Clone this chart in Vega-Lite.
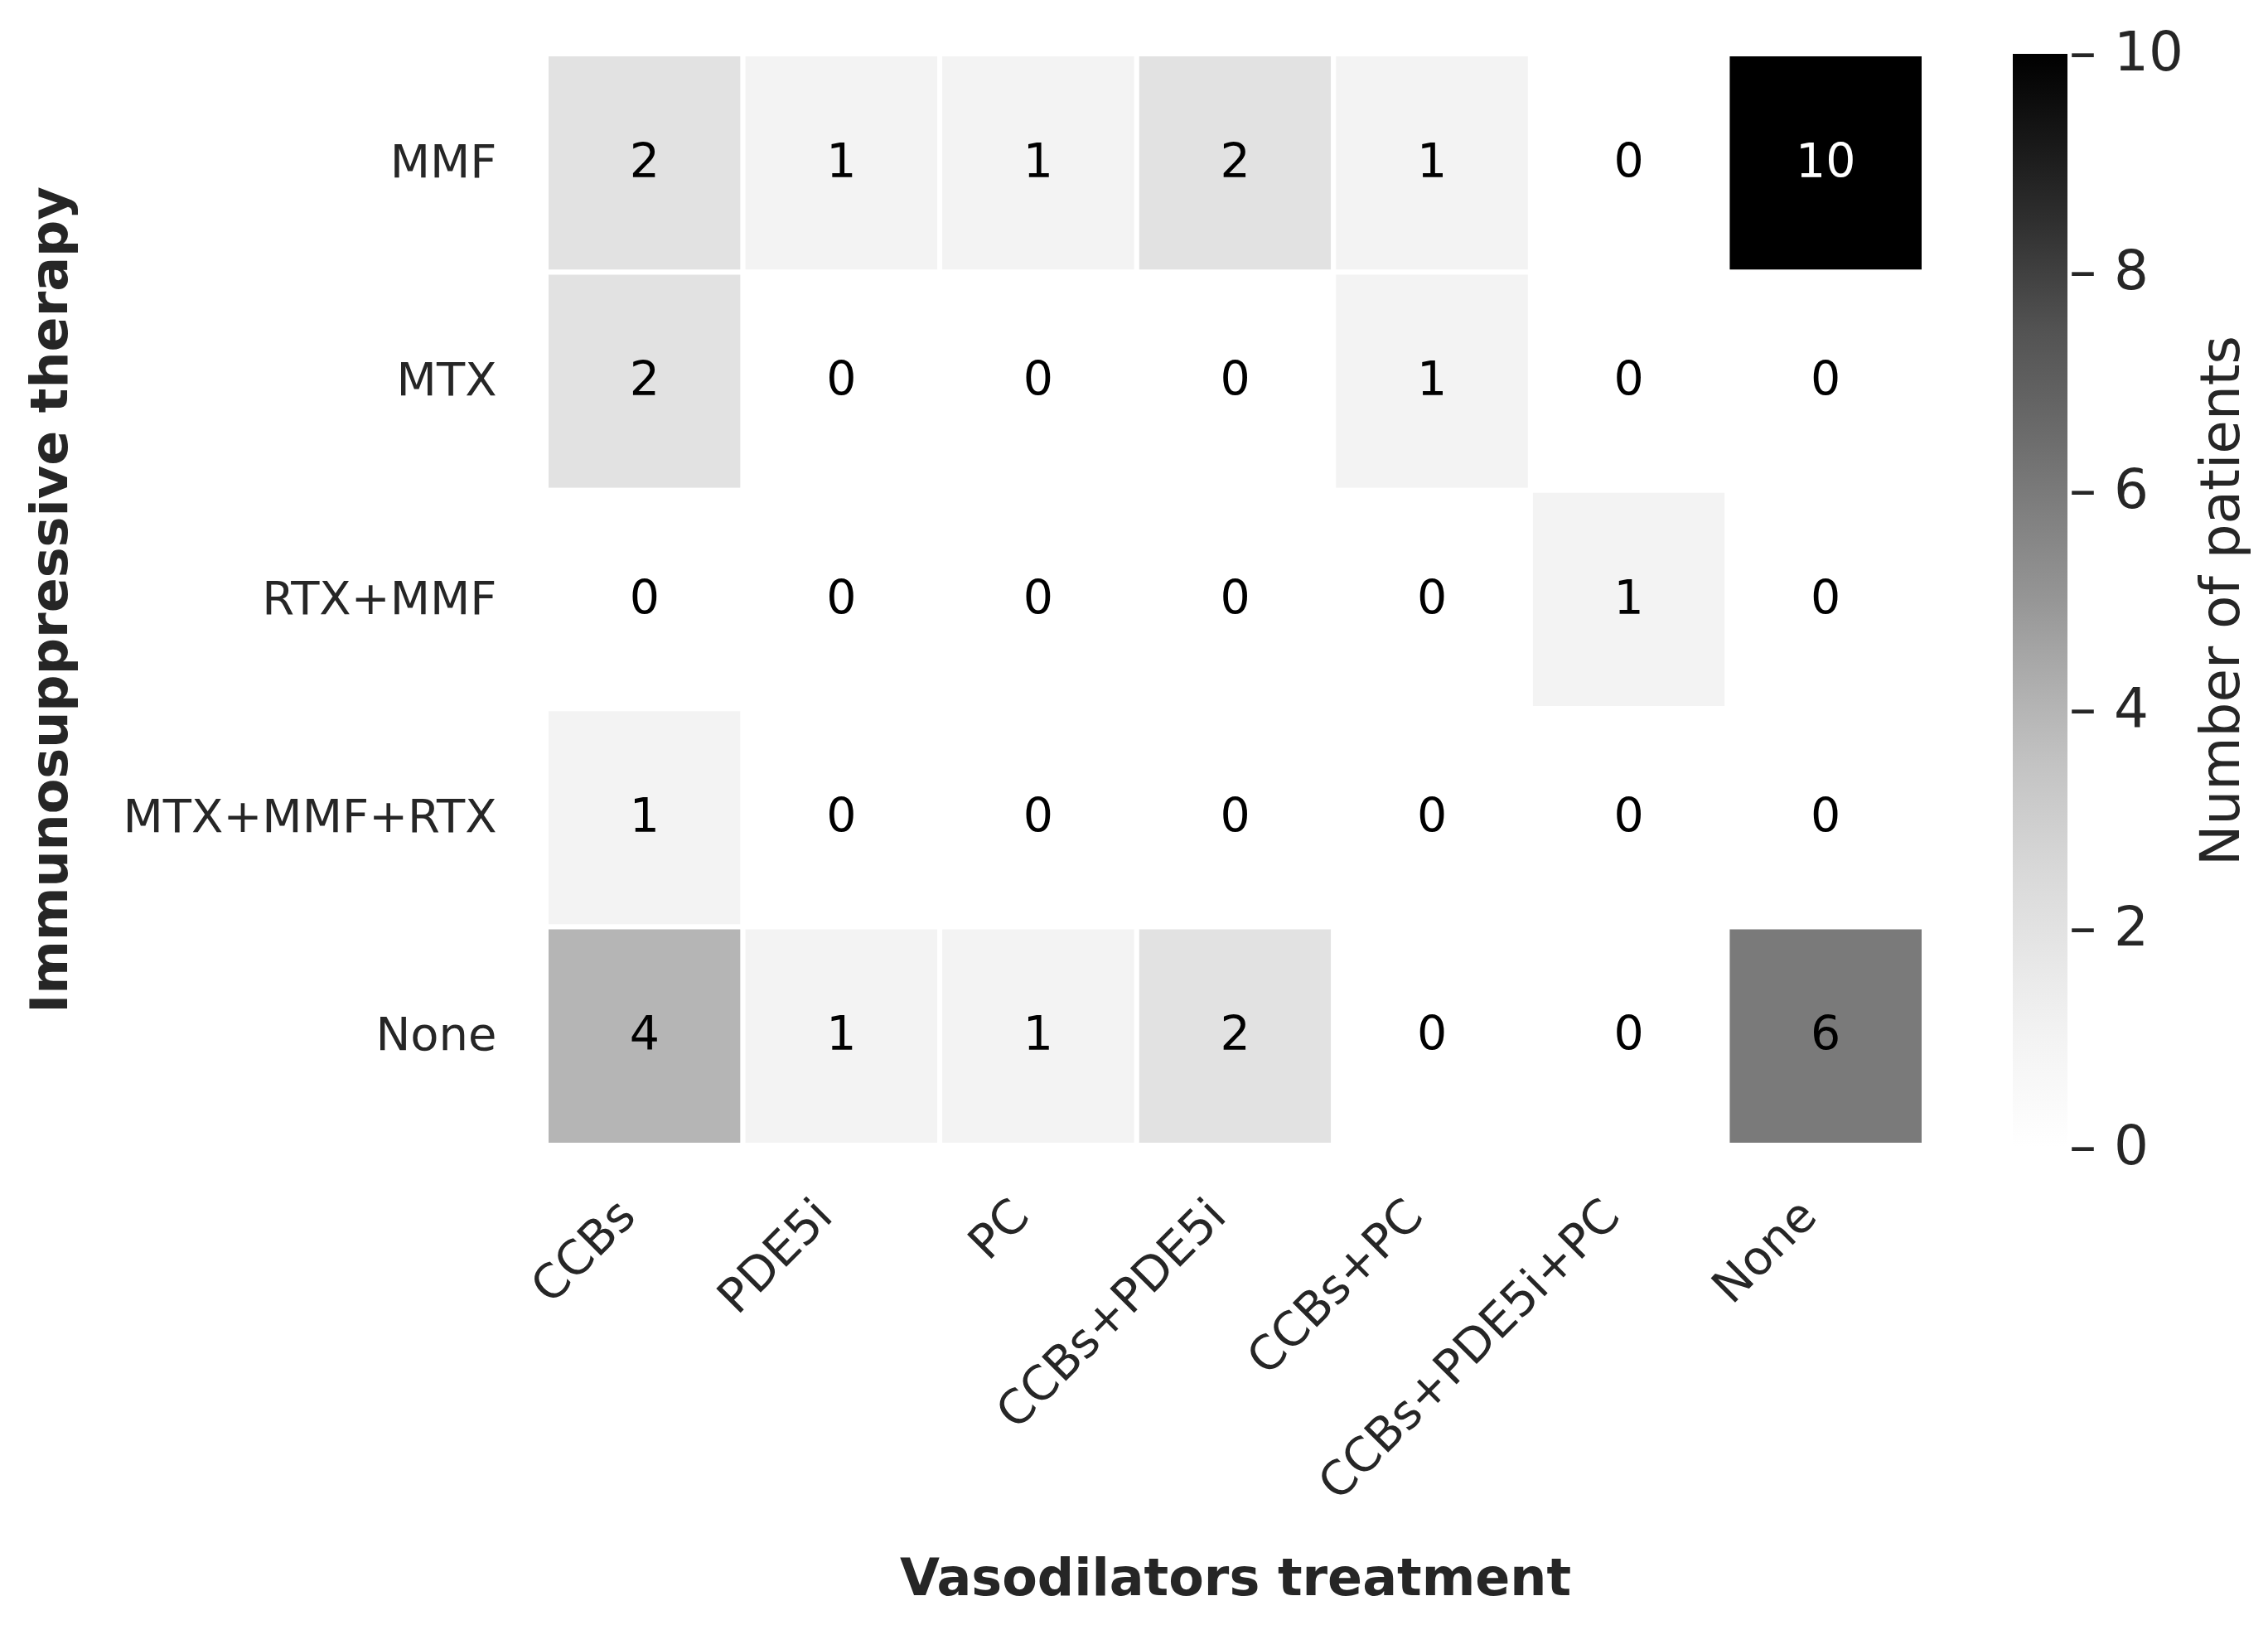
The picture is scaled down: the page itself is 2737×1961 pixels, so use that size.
{
  "$schema": "https://vega.github.io/schema/vega-lite/v6.json",
  "width": 1663,
  "height": 1317,
  "autosize": {"type": "none"},
  "padding": {"left": 659, "top": 65, "right": 415, "bottom": 579},
  "background": "white",
  "config": {"view": {"stroke": null}, "font": "DejaVu Sans"},
  "data": {
    "values": [
      {"immuno": "MMF", "vaso": "CCBs", "count": 2},
      {"immuno": "MMF", "vaso": "PDE5i", "count": 1},
      {"immuno": "MMF", "vaso": "PC", "count": 1},
      {"immuno": "MMF", "vaso": "CCBs+PDE5i", "count": 2},
      {"immuno": "MMF", "vaso": "CCBs+PC", "count": 1},
      {"immuno": "MMF", "vaso": "CCBs+PDE5i+PC", "count": 0},
      {"immuno": "MMF", "vaso": "None", "count": 10},
      {"immuno": "MTX", "vaso": "CCBs", "count": 2},
      {"immuno": "MTX", "vaso": "PDE5i", "count": 0},
      {"immuno": "MTX", "vaso": "PC", "count": 0},
      {"immuno": "MTX", "vaso": "CCBs+PDE5i", "count": 0},
      {"immuno": "MTX", "vaso": "CCBs+PC", "count": 1},
      {"immuno": "MTX", "vaso": "CCBs+PDE5i+PC", "count": 0},
      {"immuno": "MTX", "vaso": "None", "count": 0},
      {"immuno": "RTX+MMF", "vaso": "CCBs", "count": 0},
      {"immuno": "RTX+MMF", "vaso": "PDE5i", "count": 0},
      {"immuno": "RTX+MMF", "vaso": "PC", "count": 0},
      {"immuno": "RTX+MMF", "vaso": "CCBs+PDE5i", "count": 0},
      {"immuno": "RTX+MMF", "vaso": "CCBs+PC", "count": 0},
      {"immuno": "RTX+MMF", "vaso": "CCBs+PDE5i+PC", "count": 1},
      {"immuno": "RTX+MMF", "vaso": "None", "count": 0},
      {"immuno": "MTX+MMF+RTX", "vaso": "CCBs", "count": 1},
      {"immuno": "MTX+MMF+RTX", "vaso": "PDE5i", "count": 0},
      {"immuno": "MTX+MMF+RTX", "vaso": "PC", "count": 0},
      {"immuno": "MTX+MMF+RTX", "vaso": "CCBs+PDE5i", "count": 0},
      {"immuno": "MTX+MMF+RTX", "vaso": "CCBs+PC", "count": 0},
      {"immuno": "MTX+MMF+RTX", "vaso": "CCBs+PDE5i+PC", "count": 0},
      {"immuno": "MTX+MMF+RTX", "vaso": "None", "count": 0},
      {"immuno": "None", "vaso": "CCBs", "count": 4},
      {"immuno": "None", "vaso": "PDE5i", "count": 1},
      {"immuno": "None", "vaso": "PC", "count": 1},
      {"immuno": "None", "vaso": "CCBs+PDE5i", "count": 2},
      {"immuno": "None", "vaso": "CCBs+PC", "count": 0},
      {"immuno": "None", "vaso": "CCBs+PDE5i+PC", "count": 0},
      {"immuno": "None", "vaso": "None", "count": 6}
    ]
  },
  "encoding": {
    "x": {
      "field": "vaso",
      "type": "nominal",
      "sort": ["CCBs", "PDE5i", "PC", "CCBs+PDE5i", "CCBs+PC", "CCBs+PDE5i+PC", "None"],
      "scale": {"paddingInner": 0, "paddingOuter": 0},
      "axis": {
        "title": "Vasodilators treatment",
        "titleFontSize": 62,
        "titleFontWeight": "bold",
        "titleColor": "#262626",
        "titleX": 831.5,
        "titleY": 542,
        "titleBaseline": "alphabetic",
        "titleAlign": "center",
        "labelAngle": -45,
        "labelAlign": "right",
        "labelBaseline": "middle",
        "labelPadding": 76,
        "labelOffset": -20,
        "labelFontSize": 57,
        "labelColor": "#262626",
        "labelLimit": 1000,
        "ticks": false,
        "domain": false,
        "grid": false
      }
    },
    "y": {
      "field": "immuno",
      "type": "nominal",
      "sort": ["MMF", "MTX", "RTX+MMF", "MTX+MMF+RTX", "None"],
      "scale": {"paddingInner": 0, "paddingOuter": 0},
      "axis": {
        "title": "Immunosuppressive therapy",
        "titleFontSize": 62,
        "titleFontWeight": "bold",
        "titleColor": "#262626",
        "titleAngle": 270,
        "titleX": -598,
        "titleY": 658.5,
        "titleBaseline": "middle",
        "titleAlign": "center",
        "labelPadding": 60,
        "labelFontSize": 56,
        "labelColor": "#262626",
        "labelLimit": 1000,
        "ticks": false,
        "domain": false,
        "grid": false
      }
    }
  },
  "layer": [
    {
      "mark": {"type": "rect", "stroke": "white", "strokeWidth": 6},
      "encoding": {
        "color": {
          "field": "count",
          "type": "quantitative",
          "scale": {
            "domain": [0, 1.25, 2.5, 3.75, 5, 6.25, 7.5, 8.75, 10],
            "range": ["#ffffff", "#f0f0f0", "#d9d9d9", "#bdbdbd", "#969696", "#737373", "#525252", "#252525", "#000000"],
            "interpolate": "rgb"
          },
          "legend": {
            "title": "Number of patients",
            "orient": "right",
            "offset": 107,
            "padding": 0,
            "gradientLength": 1320,
            "gradientThickness": 66,
            "gradientStrokeWidth": 0,
            "values": [0, 2, 4, 6, 8, 10],
            "labelExpr": "'– ' + datum.value",
            "labelFontSize": 66,
            "labelBaseline": "middle",
            "labelOffset": 2,
            "labelColor": "#262626",
            "labelOverlap": false,
            "titleOrient": "right",
            "titleFontSize": 66,
            "titleFontWeight": "normal",
            "titleColor": "#262626",
            "titleAnchor": "middle",
            "titleLimit": 3000,
            "titlePadding": 15,
            "encode": {
              "labels": {
                "update": {
                  "baseline": {"value": "middle"}
                }
              },
              "title": {
                "update": {
                  "angle": {"value": -90},
                  "baseline": {"value": "top"},
                  "align": {"value": "center"}
                }
              }
            }
          }
        }
      }
    },
    {
      "mark": {"type": "text", "fontSize": 57, "font": "DejaVu Sans"},
      "encoding": {
        "text": {"field": "count", "type": "quantitative"},
        "color": {
          "condition": {"test": "datum.count > 7", "value": "white"},
          "value": "black"
        }
      }
    }
  ]
}
